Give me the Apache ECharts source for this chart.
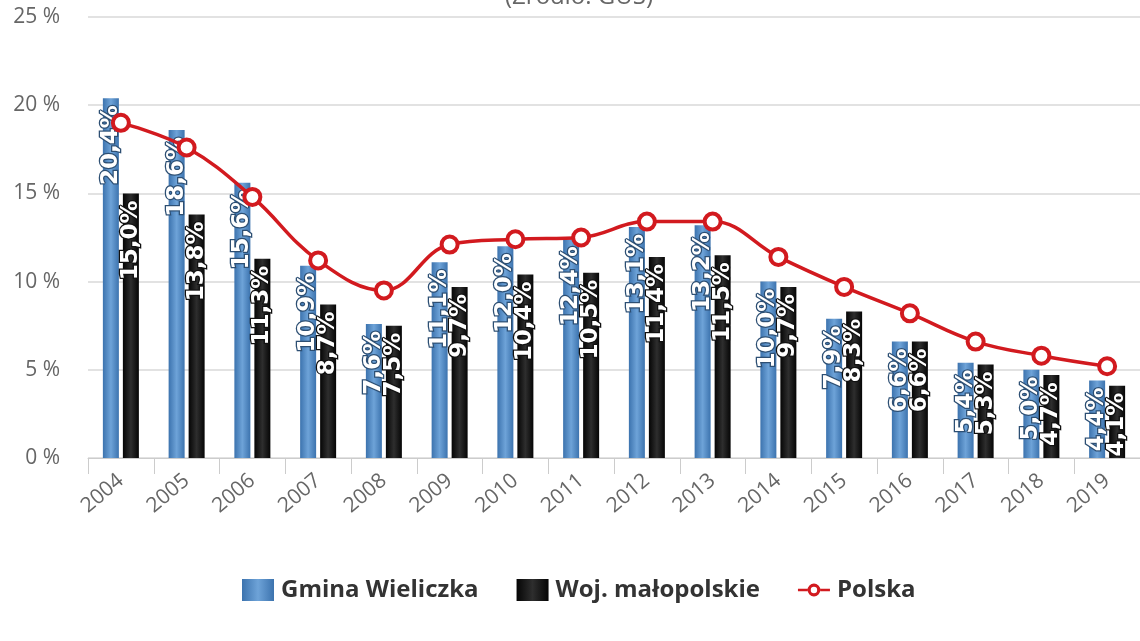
<!DOCTYPE html>
<html>
<head>
<meta charset="utf-8">
<script src="https://cdn.jsdelivr.net/npm/echarts@6/dist/echarts.min.js"></script>
<style>html,body{margin:0;padding:0;background:#fff;}#c{width:1140px;height:641px;}</style>
</head>
<body>
<div id="c"></div>
<script>
var years = ['2004','2005','2006','2007','2008','2009','2010','2011','2012','2013','2014','2015','2016','2017','2018','2019'];
var gmina = [20.4,18.6,15.6,10.9,7.6,11.1,12.0,12.4,13.1,13.2,10.0,7.9,6.6,5.4,5.0,4.4];
var woj = [15.0,13.8,11.3,8.7,7.5,9.7,10.4,10.5,11.4,11.5,9.7,8.3,6.6,5.3,4.7,4.1];
var polska = [19.0,17.6,14.8,11.2,9.5,12.1,12.4,12.5,13.4,13.4,11.4,9.7,8.2,6.6,5.8,5.2];
var yTicks = [0,5,10,15,20,25];

var chart = echarts.init(document.getElementById('c'));
var fontF = '"Open Sans", "DejaVu Sans", sans-serif';
function lbl(textBorder){
  return {
    show: true, position: 'insideTop', rotate: 90, align: 'right', verticalAlign: 'middle',
    distance: 7, color: '#fff', fontSize: 23, fontWeight: 'bold', fontFamily: '"DejaVu Sans", sans-serif',
    textBorderColor: textBorder, textBorderWidth: 2.5,
    formatter: function(p){ return p.value.toFixed(1).replace('.', ',') + '%'; }
  };
}
var lineIcon = 'path://M0,5.5 L10.5,5.5 L10.5,8.5 L0,8.5 Z M24.5,5.5 L35,5.5 L35,8.5 L24.5,8.5 Z M17.5,0 A7,7 0 1,1 17.5,14 A7,7 0 1,1 17.5,0 Z M17.5,3.5 A3.5,3.5 0 1,0 17.5,10.5 A3.5,3.5 0 1,0 17.5,3.5 Z';
chart.setOption({
  animation: false,
  title: {
    text: '(Źródło: GUS)', left: 574, textAlign: 'center', top: -20,
    textStyle: {color: '#666', fontSize: 24, fontWeight: 'normal', fontFamily: fontF}
  },
  legend: {
    left: 237, top: 573, itemWidth: 32, itemHeight: 22, itemGap: 38,
    textStyle: {color: '#333', fontSize: 24, fontWeight: 'bold', fontFamily: fontF, padding: [0,0,0,2]},
    data: [
      {name: 'Gmina Wieliczka', icon: 'rect'},
      {name: 'Woj. małopolskie', icon: 'rect'},
      {name: 'Polska', icon: lineIcon, itemStyle: {color: '#d21a1f', borderWidth: 0}}
    ]
  },
  grid: {left: 88, top: 17, width: 1056, height: 441},
  xAxis: {
    type: 'category', data: years,
    axisLine: {lineStyle: {color: '#ccc', width: 1}},
    axisTick: {show: true, length: 16, lineStyle: {color: '#ccc'}},
    axisLabel: {rotate: 40, color: '#666', fontSize: 21, fontFamily: fontF, margin: 20}
  },
  yAxis: {
    type: 'value', min: 0, max: 25, interval: 5,
    axisLabel: {color: '#666', fontSize: 21, fontFamily: fontF, margin: 28,
      formatter: function(v){ return yTicks.indexOf(v) >= 0 ? v + ' %' : ''; }},
    splitLine: {lineStyle: {color: '#d9d9d9', width: 1.5}},
    axisLine: {show: false}, axisTick: {show: false}
  },
  series: [
    {
      name: 'Gmina Wieliczka', type: 'bar', data: gmina, barWidth: 16, barGap: '25%',
      itemStyle: {color: new echarts.graphic.LinearGradient(0,0,1,0,[
        {offset:0,color:'#3c73ae'},{offset:0.5,color:'#6ea3d8'},{offset:1,color:'#3c73ae'}])},
      label: lbl('#2d4f73'), z: 2
    },
    {
      name: 'Woj. małopolskie', type: 'bar', data: woj, barWidth: 16,
      itemStyle: {color: new echarts.graphic.LinearGradient(0,0,1,0,[
        {offset:0,color:'#050505'},{offset:0.5,color:'#2e2e2e'},{offset:1,color:'#050505'}])},
      label: lbl('#111'), z: 2
    },
    {
      name: 'Polska', type: 'line', data: polska, smooth: 0.4,
      symbol: 'circle', symbolSize: 16,
      lineStyle: {color: '#d21a1f', width: 3.5},
      itemStyle: {color: '#fff', borderColor: '#d21a1f', borderWidth: 4},
      z: 5
    }
  ]
});
</script>
</body>
</html>
